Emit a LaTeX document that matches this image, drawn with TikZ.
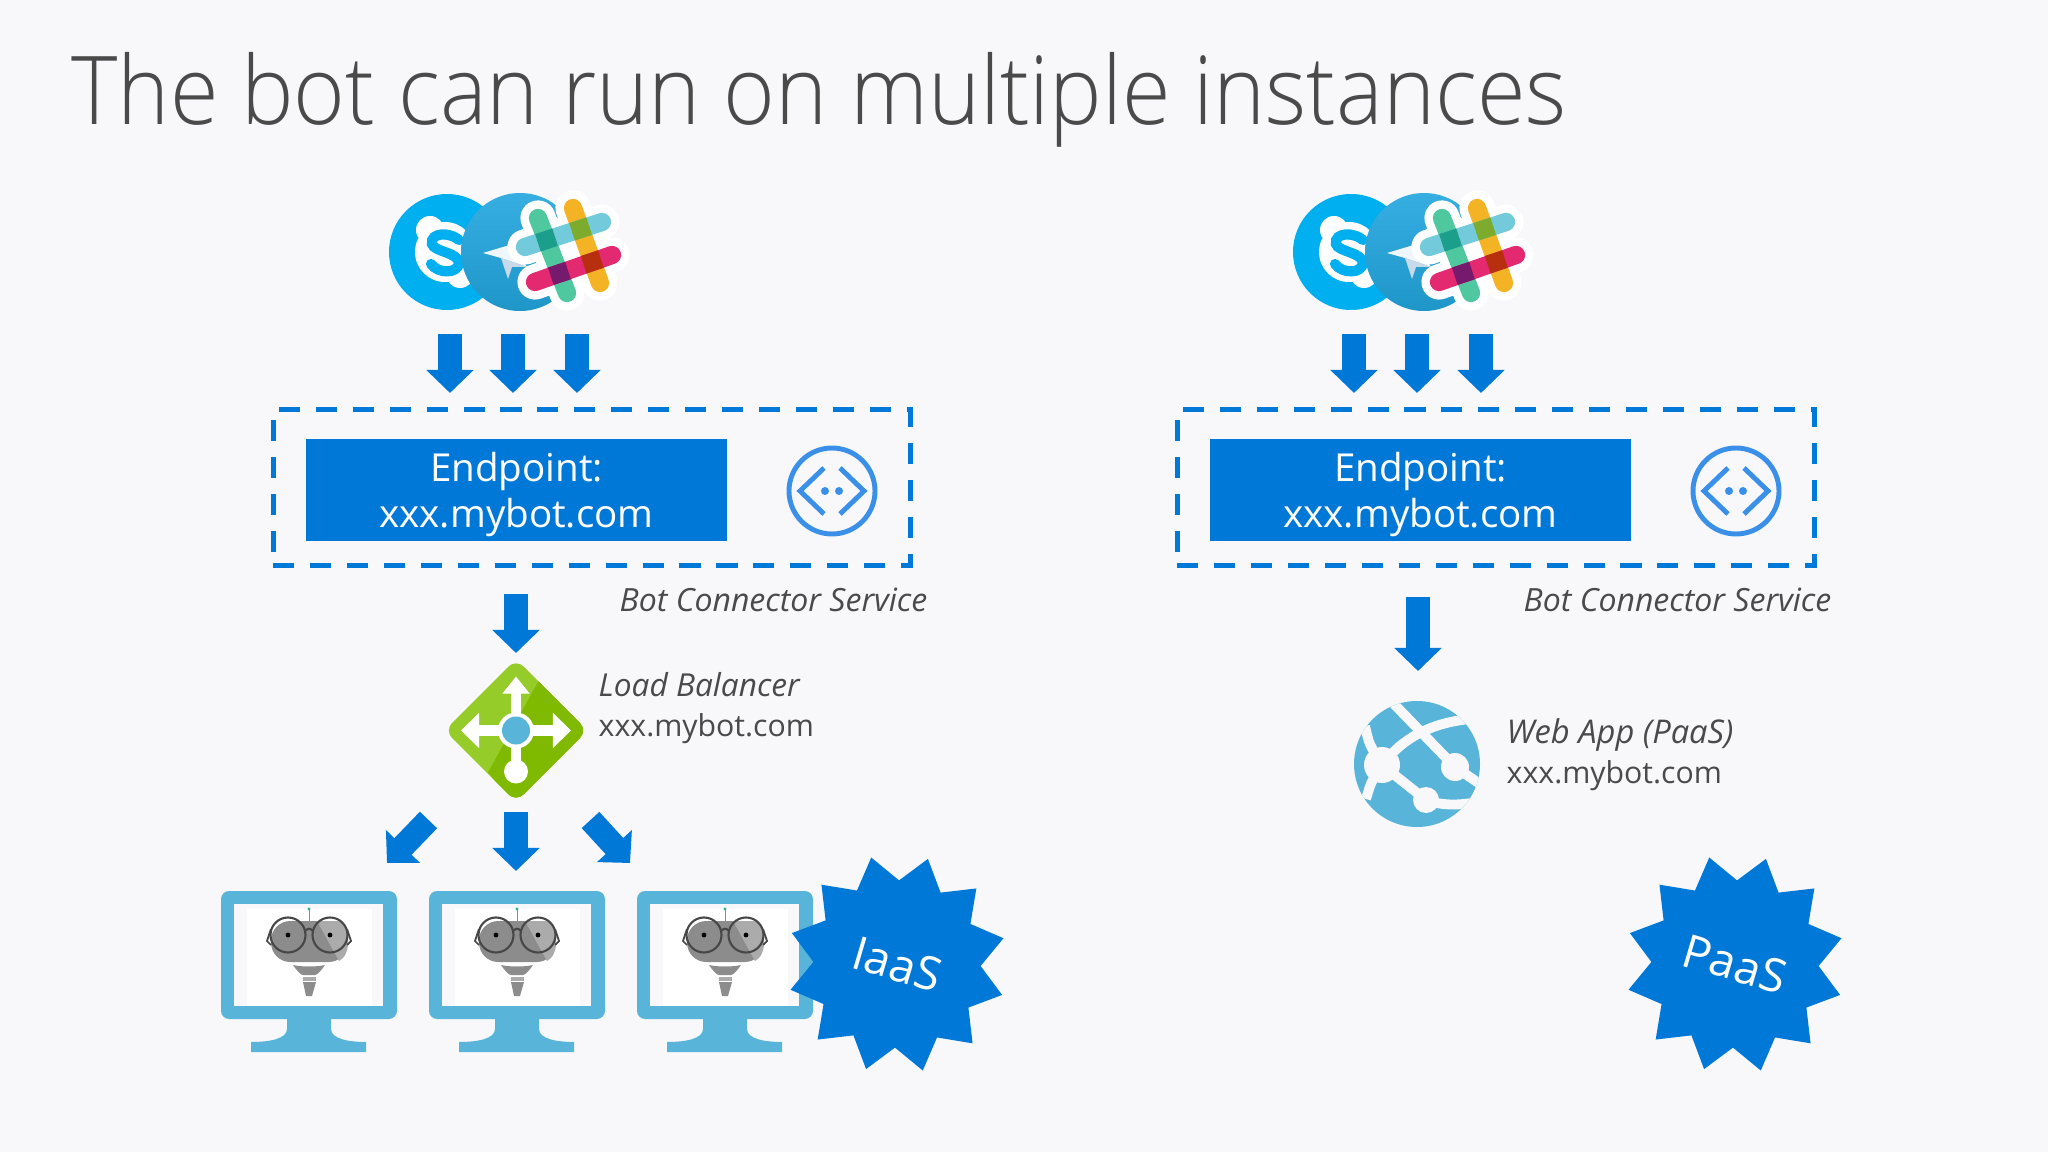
\documentclass[tikz,border=0pt]{standalone}
\usepackage{xcolor}
\usepackage{fontspec}
\setmainfont{Open Sans}[UprightFont=* Light,ItalicFont=* Light Italic]
\newfontfamily\bodyfont{Open Sans}
\newfontfamily\titlefont{Open Sans}[UprightFont=* Light,FakeStretch=0.93]
\usetikzlibrary{arrows.meta,shapes.geometric}

\begin{document}
\begin{tikzpicture}[x=0.01cm,y=-0.01cm,
  bluearrow/.style={-{Triangle[length=2.3mm,width=4.6mm]},line width=6.8pt,azure},
  dashbox/.style={draw=azure,line width=1.4pt,dash pattern=on 6pt off 4.5pt,minimum width=6.37cm,minimum height=1.55cm},
  endbox/.style={fill=azure,text=white,align=center,minimum width=4.21cm,minimum height=1.02cm,inner sep=0pt,font=\bodyfont\fontsize{10.96}{13}\selectfont},
  caption/.style={text=ink,inner sep=0pt,align=left,font=\bodyfont\fontsize{8.6}{11.4}\selectfont},
  burst/.style={star,star points=12,star point ratio=1.31,minimum size=2.19cm,inner sep=0pt,fill=azure,text=white,rotate=-16.4,font=\bodyfont\fontsize{13.2}{15}\selectfont},
  slackbar/.style={line width=5.2pt,line cap=round},
  pics/channels/.style={code={
    \fill[skype] (-73,0) circle (58);
    \fill[white] (-75,0) circle (30) (-90,-22) circle (14) (-60,22) circle (14);
    \draw[skype,line width=2.9pt,line cap=round] (-61,-12) .. controls (-70,-20) and (-90,-20) .. (-88,-8) .. controls (-86,0) and (-62,0) .. (-61,11) .. controls (-62,22) and (-82,22) .. (-89,12);
    \shade[top color=gramtop,bottom color=grambot] (0,0) circle (59);
    \fill[planelight] (-37,1) -- (-7,-8) -- (7,15) -- (-19,6) -- cycle;
    \fill[planedark] (-19,6) -- (-12,27) -- (-8,15) -- (7,15) -- cycle;
    \begin{scope}[shift={(48,0)}]
      \draw[white,line width=10pt,line cap=round] (-43,-5) -- (34,-30) (-33,30) -- (44,3) (-30,-34) -- (-1,41) (5,-44) -- (32,31);
      \draw[slackbar,slackgreen] (-30,-34) -- (-1,41);
      \draw[slackbar,slackyellow] (5,-44) -- (32,31);
      \draw[slackbar,slackblue] (-43,-5) -- (34,-30);
      \draw[slackbar,slackpink] (-33,30) -- (44,3);
      \foreach \crlr/\cx/\cy in {slackteal/-21.5/-12,slackolive/12.6/-23,slackplum/-8.6/21.4,slackred/24.3/9.9}
        {\draw[\crlr,line width=5.2pt] (\cx-8.6,\cy+2.8) -- (\cx+8.6,\cy-2.8);}
    \end{scope}
  }},
  pics/endicon/.style={code={
    \draw[iconblue,line width=1.4pt] (0,0) circle (43);
    \draw[iconblue,line width=1.4pt] (-8,-23) -- (-32,0) -- (-8,23) (8,-23) -- (32,0) -- (8,23);
    \fill[iconblue] (-7,0) circle (4) (7,0) circle (4);
  }},
  pics/balancer/.style={code={
    \begin{scope}
      \clip[rounded corners=3pt] (0,-71.5) -- (71.5,0) -- (0,71.5) -- (-71.5,0) -- cycle;
      \fill[leaflight] (-75,-75) rectangle (75,75);
      \fill[leafdark] (24,-52) -- (75,0) -- (0,75) -- (-28,42) -- cycle;
    \end{scope}
    \draw[white,line width=2.8pt,-{Triangle[length=1.7mm,width=2.6mm]}] (0,0) -- (0,-54);
    \draw[white,line width=3.2pt,-{Triangle[length=1.8mm,width=3.4mm]}] (0,0) -- (-55,0);
    \draw[white,line width=3.2pt,-{Triangle[length=1.8mm,width=3.4mm]}] (0,0) -- (55,0);
    \draw[white,line width=2.8pt] (0,0) -- (0,41);
    \fill[white] (0,41) circle (12) (0,0) circle (18);
    \fill[cloudblue] (0,0) circle (14);
  }},
  pics/webapp/.style={code={
    \fill[cloudblue] (0,0) circle (63);
    \begin{scope}
      \clip (0,0) circle (63);
      \draw[back,line width=2.8pt] (-24,-61) -- (38,3) -- (63,20);
      \draw[back,line width=2.8pt] (-35,1) .. controls (-15,-25) and (15,-45) .. (70,-46);
      \draw[back,line width=2.8pt] (-35,1) -- (9,36) .. controls (25,42) and (45,42) .. (70,36);
      \draw[back,line width=2.8pt] (-52,-38) .. controls (-48,-20) .. (-35,1) .. controls (-46,18) .. (-51,35);
    \end{scope}
    \fill[back] (-35,1) circle (18) (38,3) circle (14) (9,36) circle (13);
  }},
  pics/monitor/.style={code={
    \fill[cloudblue] (-22,128) -- (-22,138) .. controls (-22,148) and (-40,151) .. (-58,151) -- (-58,161) -- (57,161) -- (57,151) .. controls (40,151) and (22,148) .. (22,138) -- (22,128) -- cycle;
    \fill[cloudblue,rounded corners=2.3pt] (-88,0) rectangle (88,128);
    \fill[back] (-75,13) rectangle (74,115);
    \fill[white] (-62,18) rectangle (63,115);
    \draw[botgray,line width=0.2pt] (0,18) -- (0,30);
    \fill[botgreen] (0,18) circle (1.6);
    \fill[botgray,rounded corners=5.5pt] (-38,30) rectangle (39,71);
    \fill[botlight] (8,30) -- (28,30) .. controls (36,31) and (39,38) .. (39,50) .. controls (39,60) and (36,67) .. (30,70) -- cycle;
    \draw[botdark,line width=0.6pt] (-21,44) circle (17.5) (21,44) circle (17.5) (-4,40) .. controls (-1,37) and (1,37) .. (4,40);
    \draw[botdark,line width=0.5pt] (-38,38) -- (-42,50) -- (-38,54) (38,38) -- (42,50) -- (38,54);
    \fill[black] (-21,44) circle (2.4) (21,44) circle (2.4);
    \fill[botgray] (-16,74) .. controls (-8,76) and (8,76) .. (16,74) .. controls (12,80) and (8,84) .. (6,84) -- (-6,84) .. controls (-8,84) and (-12,80) .. (-16,74) -- cycle;
    \fill[botlight] (-6,85.5) rectangle (7,89.5);
    \fill[botgray] (-6,91) -- (7,91) -- (3,105) -- (-3,105) -- cycle;
  }}]
\definecolor{back}{HTML}{F8F8FA}
\definecolor{azure}{HTML}{0078D7}
\definecolor{ink}{HTML}{4A4A4A}
\definecolor{skype}{HTML}{00AFF0}
\definecolor{gramtop}{HTML}{37AEE2}
\definecolor{grambot}{HTML}{1E96C8}
\definecolor{planelight}{HTML}{EFF7FC}
\definecolor{planedark}{HTML}{C8DAEA}
\definecolor{slackgreen}{HTML}{4FC79F}
\definecolor{slackyellow}{HTML}{F3B324}
\definecolor{slackblue}{HTML}{72CADB}
\definecolor{slackpink}{HTML}{E3296F}
\definecolor{slackteal}{HTML}{1B9E8A}
\definecolor{slackolive}{HTML}{7CAB2E}
\definecolor{slackplum}{HTML}{751A6C}
\definecolor{slackred}{HTML}{B82F0F}
\definecolor{iconblue}{HTML}{3A90E8}
\definecolor{leaflight}{HTML}{95CC2A}
\definecolor{leafdark}{HTML}{7FBA00}
\definecolor{cloudblue}{HTML}{59B4D9}
\definecolor{botgray}{HTML}{8C8C8C}
\definecolor{botlight}{HTML}{ABABAB}
\definecolor{botdark}{HTML}{474747}
\definecolor{botgreen}{HTML}{2CB58F}
\useasboundingbox (0,0) rectangle (2048,1152);
\fill[back] (0,0) rectangle (2048,1152);
\node[anchor=base west,inner sep=0pt,text=ink,font=\titlefont\fontsize{27}{32}\selectfont] (title) at (71,125) {The bot can run on multiple instances};
\foreach \side/\dx in {l/0,r/904}
{
  \begin{scope}[shift={(\dx,0)}]
    \pic (chan\side) at (520,252) {channels};
    \foreach \nm/\pos in {a/450,b/513,c/577}
    {
      \coordinate (in\side\nm) at (\pos,334);
      \coordinate (to\side\nm) at (\pos,393);
      \draw[bluearrow] (in\side\nm) -- (to\side\nm);
    }
    \node[dashbox] (dash\side) at (592,487.5) {};
    \node[endbox] (end\side) at (516.5,490) {\rule{0pt}{10.8pt}Endpoint:\\xxx.mybot.com};
    \pic (icon\side) at (832,491) {endicon};
    \node[caption,anchor=base west,font=\bodyfont\fontsize{9.1}{11.4}\selectfont] (bot\side) at (619,612) {\textit{Bot Connector Service}};
  \end{scope}
}
\coordinate (lbin) at (516,594);
\coordinate (lbto) at (516,653);
\draw[bluearrow] (lbin) -- (lbto);
\pic (lb) at (516,730.5) {balancer};
\node[caption,anchor=west] (lbtext) at (598,708.5) {\textit{\fontsize{9}{11.4}\selectfont Load Balancer}\\xxx.mybot.com};
\foreach \nm/\pos/\tox/\fromx/\fromy/\toy in {a/221/387/428.5/820/863,b/429/516/516/812/871,c/637/630/590.5/820/863}
{
  \pic (mon\nm) at (\pos+88,891) {monitor};
  \coordinate (out\nm) at (\fromx,\fromy);
  \coordinate (vm\nm) at (\tox,\toy);
  \draw[bluearrow] (out\nm) -- (vm\nm);
}
\coordinate (appin) at (1418,597);
\coordinate (appto) at (1418,671);
\draw[bluearrow] (appin) -- (appto);
\pic (app) at (1417,764) {webapp};
\node[caption,anchor=west] (apptext) at (1506,754.5) {\textit{\fontsize{9.3}{11.4}\selectfont Web App (PaaS)}\\xxx.mybot.com};
\node[burst] (iaas) at (897,964) {IaaS};
\node[burst] (paas) at (1735,964) {PaaS};
\end{tikzpicture}
\end{document}
